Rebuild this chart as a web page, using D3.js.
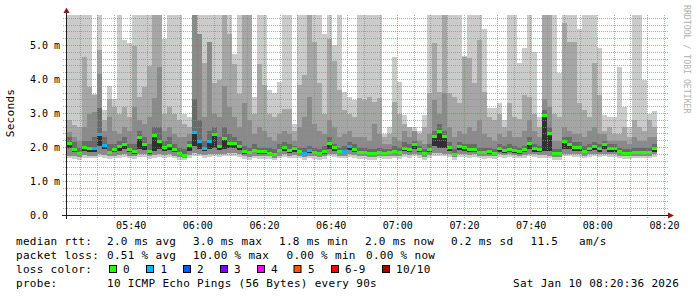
<!DOCTYPE html>
<html>
<head>
<meta charset="utf-8">
<script src="https://cdn.jsdelivr.net/npm/d3@7"></script>
<style>
body { margin: 0; background: #fff; }
svg { display: block; }
text { font-family: "DejaVu Sans Mono", monospace; }
</style>
</head>
<body>
<div class="chart"></div>
<script>
// one entry per 90 s step, first step starts 05:21:00
const medianRtt = [
  2.13,1.96,1.83,2.01,1.98,1.98,2.40,2.07,1.88,1.96,
  2.03,2.10,1.95,1.89,2.31,2.09,1.90,2.37,2.18,2.02,
  2.07,1.96,1.84,1.79,2.07,2.45,2.18,1.99,2.18,2.39,
  2.03,2.29,2.14,2.14,2.05,1.90,1.86,1.94,1.89,1.89,
  1.85,1.80,1.94,2.02,1.92,1.98,1.91,1.84,1.92,1.88,
  1.83,1.89,2.12,2.01,1.90,1.90,2.04,1.97,1.86,1.86,
  1.84,1.83,1.88,1.85,1.86,1.91,1.88,2.00,1.97,2.11,
  1.96,1.84,1.97,2.34,2.50,2.34,2.02,1.82,2.03,2.01,
  1.95,1.97,1.88,1.86,1.89,1.85,1.98,1.92,1.97,1.92,
  1.89,1.95,2.14,1.98,1.95,2.95,2.42,1.83,1.83,2.19,
  2.11,2.02,2.01,1.91,1.99,2.03,1.98,2.09,1.98,1.98,
  1.91,1.85,1.85,1.87,1.87,1.87,1.87,1.98
];
const lossCount = [
  0,0,0,0,0,1,1,1,0,0, 0,0,0,0,0,0,0,0,0,0,
  0,0,0,0,0,1,1,1,1,0, 0,0,0,0,0,0,0,0,0,0,
  0,0,0,0,0,0,0,1,1,0, 0,0,0,0,0,1,1,0,0,0,
  0,0,0,0,0,0,0,0,0,0, 0,0,0,0,0,0,0,0,0,0,
  0,0,0,0,0,0,0,0,0,0, 0,0,0,0,0,0,0,0,0,0,
  0,0,0,0,0,0,0,0,0,0, 0,0,0,0,0,0,0,0
];
// smoke: highest ping and the next ones down
const pingMax = [
  5.9,5.9,5.9,5.9,5.9,3.56,5.9,3.1,3.8,3.44,
  5.9,5.15,5.06,5.9,5.9,5.9,5.9,5.9,5.9,5.2,
  5.9,5.9,5.9,3.0,2.9,5.9,5.9,5.9,5.9,5.9,
  5.9,5.9,5.9,4.76,5.9,5.9,5.9,3.49,5.9,5.9,
  3.69,3.6,3.94,5.9,5.9,2.7,5.9,5.9,5.9,5.9,
  5.9,5.35,5.9,5.01,5.9,3.64,3.5,3.4,5.9,5.9,
  5.9,5.9,5.9,2.4,2.6,4.67,3.94,2.96,2.5,2.6,
  2.5,2.95,5.9,5.9,5.9,5.9,5.9,5.9,5.9,4.7,
  5.9,5.9,5.9,5.5,3.16,3.16,3.31,2.8,5.9,5.9,
  4.48,4.92,5.9,4.82,2.9,5.9,5.9,5.9,4.19,5.9,
  5.9,5.9,5.5,5.9,5.9,5.9,4.92,2.95,2.9,2.9,
  4.38,3.2,2.6,5.9,5.9,3.98,3.0,3.08
];
const ping9 = [
  2.8,2.65,2.6,4.66,3.79,3.53,4.87,2.8,3.44,3.2,
  3.0,3.18,2.9,5.0,3.5,3.78,4.4,5.9,5.9,3.0,
  3.2,3.0,2.8,2.7,2.6,5.9,5.35,4.5,5.1,3.9,
  4.0,5.9,5.35,4.46,3.58,5.9,5.9,3.0,4.47,3.84,
  3.0,2.9,3.0,3.13,3.13,2.5,3.84,4.13,5.9,5.1,
  3.89,3.0,5.2,4.55,3.7,3.1,3.0,2.9,3.45,3.4,
  3.48,3.33,3.45,2.3,2.4,3.33,3.0,2.7,2.6,2.5,
  2.4,2.6,3.6,5.07,3.63,5.9,3.6,3.5,3.3,4.67,
  4.62,3.9,5.16,3.64,2.9,2.8,3.0,2.6,3.31,2.9,
  2.84,3.53,3.5,3.0,2.6,5.9,5.9,3.0,2.9,5.67,
  5.1,5.1,3.3,3.1,2.9,4.48,3.53,2.5,2.6,2.4,
  2.4,2.6,2.3,2.8,2.6,2.5,2.8,2.6
];
const ping8 = [
  2.45,2.3,2.2,2.6,2.99,3.04,4.17,2.5,2.9,2.5,
  2.4,2.6,2.5,3.2,2.8,2.7,2.9,3.47,4.38,2.5,
  2.6,2.4,2.3,2.3,2.4,5.9,5.35,2.9,5.1,3.0,
  2.9,3.8,3.18,2.9,2.6,3.3,2.8,2.4,2.6,2.5,
  2.3,2.2,2.4,2.5,2.4,2.2,2.6,2.9,3.5,2.7,
  2.5,2.4,2.8,2.6,2.3,2.4,2.5,2.3,2.3,2.3,
  2.2,2.7,2.4,2.1,2.1,2.3,2.2,2.5,2.3,2.5,
  2.2,2.1,2.4,3.4,3.0,3.6,2.6,2.3,2.5,2.4,
  2.6,2.5,2.8,2.4,2.3,2.2,2.4,2.3,2.5,2.3,
  2.3,2.5,2.8,2.5,2.3,3.44,3.2,2.2,2.2,2.6,
  2.5,2.4,2.4,2.3,2.5,2.6,2.4,2.4,2.2,2.2,
  2.2,2.2,2.1,2.3,2.2,2.2,2.3,2.3
];
const ping7 = [
  2.3,2.15,2.0,2.2,2.2,2.3,3.17,2.3,2.1,2.1,
  2.2,2.3,2.1,2.1,2.5,2.3,2.1,2.6,2.6,2.2,
  2.3,2.1,2.0,1.95,2.2,3.44,2.8,2.2,2.5,2.6,
  2.3,2.6,2.4,2.3,2.2,2.05,2.0,2.1,2.0,2.0,
  2.0,1.95,2.1,2.15,2.1,2.05,2.0,2.0,2.05,2.0,
  1.95,2.05,2.3,2.1,2.0,2.05,2.15,2.1,2.0,2.0,
  1.95,1.95,2.0,1.95,1.95,2.05,2.0,2.15,2.1,2.2,
  2.05,1.95,2.1,2.5,2.7,2.5,2.15,1.95,2.15,2.1,
  2.1,2.1,2.0,2.0,2.0,1.95,2.1,2.05,2.1,2.05,
  2.0,2.05,2.3,2.1,2.05,3.1,2.6,1.95,1.95,2.3,
  2.3,2.15,2.15,2.05,2.1,2.15,2.1,2.2,2.1,2.1,
  2.0,1.95,1.95,2.0,2.0,2.0,2.0,2.1
];
// lower edges of the smoke
const darkBottom = [
  2.0,1.88,1.78,1.9,1.88,1.88,2.05,1.95,1.8,1.86,
  1.9,1.95,1.86,1.82,1.95,1.92,1.82,1.9,1.95,1.9,
  1.92,1.86,1.78,1.75,1.9,2.05,1.95,1.9,1.95,2.0,
  1.92,1.95,2.0,2.0,1.92,1.82,1.8,1.86,1.82,1.82,
  1.8,1.76,1.86,1.9,1.85,1.88,1.84,1.78,1.84,1.82,
  1.78,1.82,1.95,1.9,1.84,1.84,1.92,1.88,1.8,1.8,
  1.78,1.78,1.82,1.8,1.8,1.84,1.82,1.9,1.88,1.95,
  1.88,1.78,1.88,2.05,2.0,2.0,1.9,1.77,1.92,1.9,
  1.86,1.88,1.82,1.8,1.82,1.8,1.88,1.85,1.88,1.85,
  1.82,1.86,1.95,1.88,1.86,1.9,1.9,1.78,1.78,1.95,
  1.95,1.9,1.9,1.84,1.9,1.92,1.88,1.95,1.88,1.88,
  1.84,1.8,1.8,1.82,1.82,1.82,1.82,1.88
];
const midBottom = [
  1.76,1.76,1.72,1.78,1.76,1.76,1.8,1.78,1.74,1.76,
  1.78,1.8,1.76,1.74,1.8,1.8,1.74,1.78,1.8,1.78,
  1.8,1.76,1.72,1.7,1.78,1.85,1.82,1.78,1.8,1.82,
  1.8,1.82,1.85,1.85,1.8,1.74,1.72,1.76,1.74,1.74,
  1.74,1.7,1.76,1.8,1.76,1.78,1.76,1.72,1.76,1.74,
  1.72,1.74,1.82,1.8,1.76,1.76,1.8,1.78,1.74,1.74,
  1.72,1.72,1.76,1.74,1.74,1.76,1.74,1.8,1.78,1.82,
  1.78,1.72,1.78,1.85,1.85,1.82,1.8,1.72,1.8,1.8,
  1.78,1.8,1.76,1.74,1.76,1.74,1.8,1.77,1.8,1.77,
  1.76,1.78,1.82,1.8,1.78,1.78,1.76,1.72,1.72,1.82,
  1.82,1.8,1.8,1.76,1.8,1.82,1.8,1.82,1.8,1.8,
  1.76,1.74,1.74,1.76,1.76,1.76,1.76,1.8
];
const pingMin = [
  1.68,1.66,1.64,1.68,1.68,1.7,1.72,1.7,1.66,1.68,
  1.7,1.72,1.68,1.66,1.72,1.72,1.66,1.7,1.72,1.7,
  1.72,1.68,1.64,1.64,1.7,1.76,1.74,1.7,1.72,1.74,
  1.72,1.74,1.76,1.76,1.72,1.66,1.64,1.68,1.66,1.66,
  1.66,1.64,1.68,1.72,1.68,1.7,1.68,1.64,1.68,1.66,
  1.64,1.66,1.74,1.72,1.68,1.68,1.72,1.7,1.66,1.66,
  1.64,1.64,1.68,1.66,1.66,1.68,1.66,1.72,1.7,1.74,
  1.7,1.64,1.7,1.76,1.76,1.74,1.72,1.64,1.72,1.72,
  1.7,1.72,1.68,1.66,1.68,1.66,1.72,1.69,1.72,1.69,
  1.68,1.7,1.74,1.72,1.7,1.7,1.68,1.64,1.64,1.74,
  1.74,1.72,1.72,1.68,1.72,1.74,1.72,1.74,1.72,1.72,
  1.68,1.66,1.66,1.68,1.68,1.68,1.68,1.72
];

const yTicks = [0, 1, 2, 3, 4, 5];
const yTickLabels = ["0.0", "1.0 m", "2.0 m", "3.0 m", "4.0 m", "5.0 m"];
const lossLabels = ["0", "1", "2", "3", "4", "5", "6-9", "10/10"];
const lossColors = ["#26ff00", "#00b8ff", "#0059ff", "#7e00ff", "#ff00ff", "#ff5500", "#ff0000", "#a10000"];

const legendRtt = ["2.0 ms avg", "3.0 ms max", "1.8 ms min", "2.0 ms now", "0.2 ms sd", "11.5", "am/s"];
const legendLoss = ["0.51 % avg", "10.00 % max", "0.00 % min", "0.00 % now"];
const probeText = "10 ICMP Echo Pings (56 Bytes) every 90s";
const dateText = "Sat Jan 10 08:20:36 2026";

const chartW = 697, chartH = 297;
const plotL = 66, plotR = 666, plotT = 15, plotB = 215.5;

const t0 = new Date(2026, 0, 10, 5, 20, 36);
const t1 = new Date(2026, 0, 10, 8, 20, 36);
const firstStep = new Date(2026, 0, 10, 5, 21, 0);
const stepMs = 90 * 1000;

const x = d3.scaleTime().domain([t0, t1]).range([plotL, plotR]);
const y = d3.scaleLinear().domain([0, (plotB - plotT) / 34]).range([plotB, plotT]);

const svg = d3.select(".chart").append("svg")
    .attr("width", chartW)
    .attr("height", chartH);

svg.append("rect").attr("width", chartW).attr("height", chartH).attr("fill", "#fff");

svg.append("defs").append("clipPath").attr("id", "plot")
    .append("rect").attr("x", plotL).attr("y", plotT).attr("width", plotR - plotL).attr("height", 200.5);

const steps = medianRtt.map((m, i) => {
    const a = new Date(firstStep.getTime() + i * stepMs);
    const b = new Date(a.getTime() + stepMs);
    return { i, x0: Math.round(x(a)), x1: Math.round(x(b)) };
});

const smoke = svg.append("g").attr("clip-path", "url(#plot)").attr("shape-rendering", "crispEdges");

const layers = [
    { lo: pingMin, hi: pingMax, color: "#cbcbcb" },
    { lo: midBottom, hi: ping9, color: "#a6a6a6" },
    { lo: midBottom, hi: ping8, color: "#8a8a8a" },
    { lo: darkBottom, hi: ping7, color: "#6a6a6a" },
    { lo: darkBottom, hi: medianRtt, color: "#303030" }
];

layers.forEach(l => {
    smoke.append("g").selectAll("rect")
        .data(steps)
        .enter()
        .append("rect")
        .attr("x", d => d.x0)
        .attr("width", d => d.x1 - d.x0)
        .attr("y", d => Math.round(y(l.hi[d.i])))
        .attr("height", d => Math.max(0, Math.round(y(l.lo[d.i])) - Math.round(y(l.hi[d.i]))))
        .attr("fill", l.color);
});

// median marker, colored by packet loss
smoke.append("g").selectAll("rect")
    .data(steps)
    .enter()
    .append("rect")
    .attr("x", d => d.x0)
    .attr("width", d => d.x1 - d.x0)
    .attr("y", d => Math.round(y(medianRtt[d.i])) - 1)
    .attr("height", 3)
    .attr("fill", d => lossColors[lossCount[d.i]]);

// grid on top of the data, like rrdtool
const grid = svg.append("g").attr("shape-rendering", "crispEdges");
const minorY = d3.range(0, 5.9, 0.2).filter(v => Math.abs(v - Math.round(v)) > 0.01);
grid.selectAll(".hminor").data(minorY).enter().append("line")
    .attr("x1", plotL - 3).attr("x2", plotR + 2)
    .attr("y1", v => Math.floor(y(v)) + 0.5).attr("y2", v => Math.floor(y(v)) + 0.5)
    .attr("stroke", "rgba(143,143,143,0.75)").attr("stroke-dasharray", "1,1");

const minorX = d3.timeMinute.every(5).range(t0, t1).filter(t => t.getMinutes() % 20 !== 0);
grid.selectAll(".vminor").data(minorX).enter().append("line")
    .attr("x1", t => Math.floor(x(t)) + 0.5).attr("x2", t => Math.floor(x(t)) + 0.5)
    .attr("y1", plotT).attr("y2", plotB + 3)
    .attr("stroke", "rgba(143,143,143,0.75)").attr("stroke-dasharray", "1,1");

const majorX = d3.timeMinute.every(20).range(t0, new Date(t1.getTime() + 1));
grid.selectAll(".vmajor").data(majorX).enter().append("line")
    .attr("x1", t => Math.floor(x(t)) + 0.5).attr("x2", t => Math.floor(x(t)) + 0.5)
    .attr("y1", plotT).attr("y2", plotB + 3)
    .attr("stroke", "rgba(222,79,79,0.6)").attr("stroke-dasharray", "1,1");

grid.selectAll(".hmajor").data(yTicks.slice(1)).enter().append("line")
    .attr("x1", plotL - 3).attr("x2", plotR + 2)
    .attr("y1", v => Math.floor(y(v)) + 0.5).attr("y2", v => Math.floor(y(v)) + 0.5)
    .attr("stroke", "rgba(222,79,79,0.6)").attr("stroke-dasharray", "1,1");

// axes
const axis = svg.append("g").attr("shape-rendering", "crispEdges");
axis.append("line").attr("x1", plotL - 4).attr("x2", plotR + 4)
    .attr("y1", 215.5).attr("y2", 215.5).attr("stroke", "#1f1f1f");
axis.append("line").attr("x1", 66.5).attr("x2", 66.5)
    .attr("y1", 219).attr("y2", 11).attr("stroke", "#1f1f1f");
svg.append("path").attr("d", "M 63.5 13 L 66.5 7.5 L 69.5 13 Z").attr("fill", "#801f1f");
svg.append("path").attr("d", "M 668 212.5 L 674 215.5 L 668 218.5 Z").attr("fill", "#801f1f");

svg.append("g").selectAll("text")
    .data(yTicks)
    .enter()
    .append("text")
    .attr("x", 30)
    .attr("y", v => y(v) + 3.5)
    .style("font-size", "10px")
    .attr("fill", "#000")
    .text((v, i) => yTickLabels[i]);

svg.append("g").selectAll("text")
    .data(majorX.filter(t => x(t) > plotL + 20))
    .enter()
    .append("text")
    .attr("x", t => x(t) + 0.5)
    .attr("y", 228.5)
    .attr("text-anchor", "middle")
    .style("font-size", "10px")
    .attr("fill", "#000")
    .text(d3.timeFormat("%H:%M"));

svg.append("text")
    .attr("transform", "translate(14,113) rotate(-90)")
    .attr("text-anchor", "middle")
    .style("font-size", "11px")
    .style("letter-spacing", "0.3px")
    .text("Seconds");

svg.append("text")
    .attr("transform", "translate(684,5) rotate(90)")
    .style("font-size", "8.2px")
    .attr("fill", "#b0b0b0")
    .text("RRDTOOL / TOBI OETIKER");

// legend
function put(str, px, py) {
    svg.append("text")
        .attr("x", px)
        .attr("y", py)
        .style("font-size", "11px")
        .style("letter-spacing", "0.3px")
        .style("white-space", "pre")
        .attr("fill", "#000")
        .text(str);
}

put("median rtt:", 16, 245);
[107, 193, 279, 365, 451, 530.5, 579].forEach((px, i) => put(legendRtt[i], px, 245));
put("packet loss:", 16, 259);
[107, 193, 286.5, 366].forEach((px, i) => put(legendLoss[i], px, 259));
put("loss color:", 16, 273);
const boxX = [109, 146, 183, 220, 257, 293.5, 331, 382];
const labelX = [123, 160.5, 197, 234, 271, 308, 345, 396];
lossLabels.forEach((lab, i) => {
    svg.append("rect")
        .attr("x", boxX[i] + 0.5).attr("y", 265.5)
        .attr("width", 7).attr("height", 7)
        .attr("fill", lossColors[i])
        .attr("stroke", "#000");
    put(lab, labelX[i], 273);
});
put("probe:", 16, 287);
put(probeText, 107, 287);
put(dateText, 513, 287);
</script>
</body>
</html>
